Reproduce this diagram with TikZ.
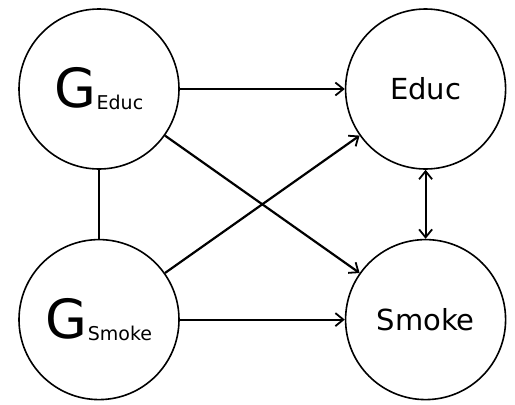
\documentclass[tikz,border=0pt]{standalone}
\usepackage{fontspec}
\setmainfont{DejaVu Sans}
\usetikzlibrary{positioning,arrows.meta}

\begin{document}
\begin{tikzpicture}[x=1pt,y=1pt,node distance=165pt,
    var/.style={circle,draw,line width=1.6pt,minimum size=160pt,inner sep=0pt,font=\fontsize{29}{30}\selectfont},
    gvar/.style={var,font=\fontsize{54}{54}\selectfont},
    arrow/.style={-{Straight Barb[length=8pt,width=13pt,line width=1.8pt]},line width=2.2pt},
    both/.style={{Straight Barb[length=8pt,width=13pt,line width=1.8pt]}-{Straight Barb[length=8pt,width=13pt,line width=1.8pt]},line width=2.2pt}]
    \useasboundingbox (0,0) rectangle (515,-405);
    \node[gvar] (ge) at (99,-89) {G\raisebox{-2pt}{\fontsize{19}{19}\selectfont Educ}};
    \node[var,right=of ge] (e) {Educ};
    \node[gvar,below=69pt of ge] (gs) {G\raisebox{-2pt}{\fontsize{19}{19}\selectfont Smoke}};
    \node[var,right=of gs] (s) {Smoke};
    \draw[arrow] (ge) -- (e);
    \draw[arrow] (gs) -- (s);
    \draw[arrow] (ge) -- (s);
    \draw[arrow] (gs) -- (e);
    \draw[line width=2.2pt] (ge) -- (gs);
    \draw[both] (e) -- (s);
\end{tikzpicture}
\end{document}
